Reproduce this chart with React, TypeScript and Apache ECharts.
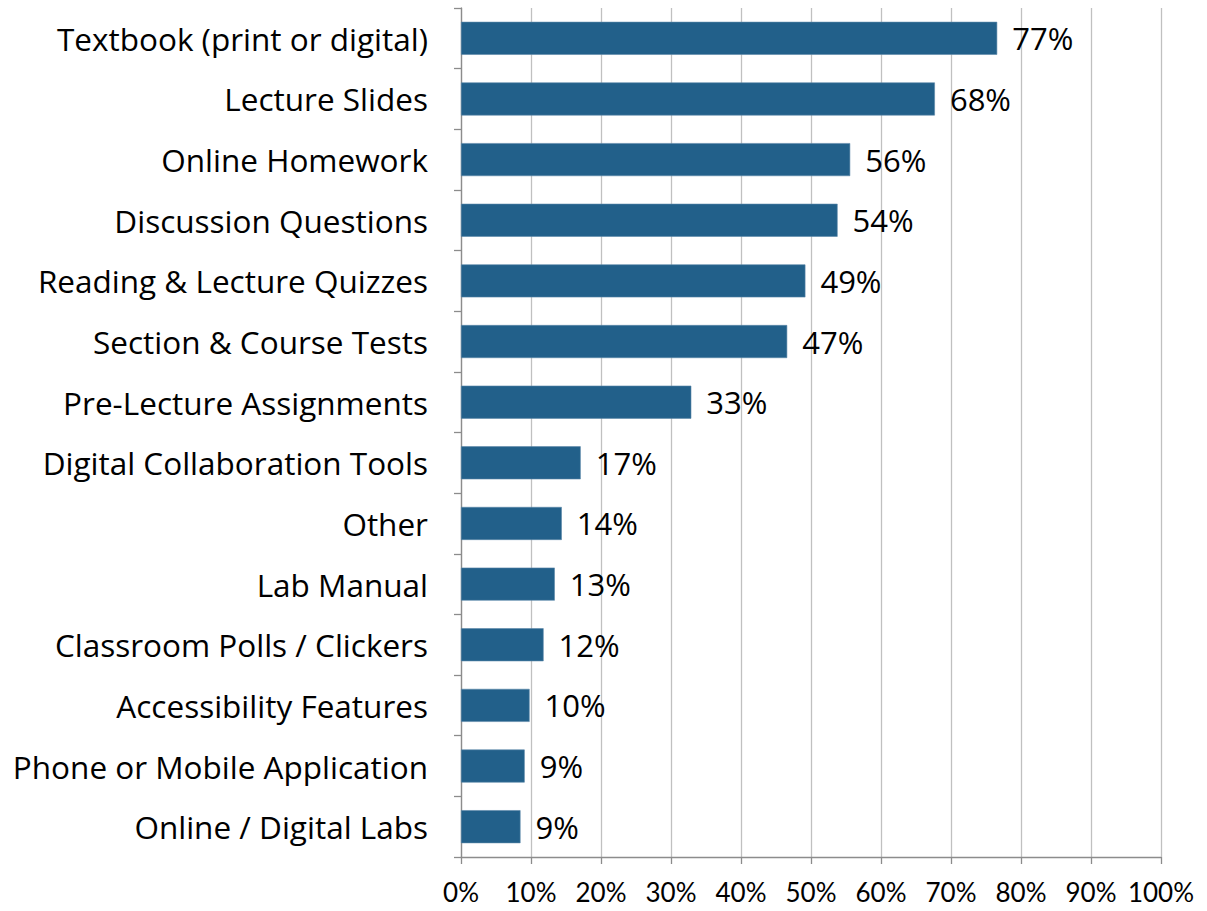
import React, { useEffect, useRef } from "react";
import * as echarts from "echarts";

const categories = [
  "Textbook (print or digital)",
  "Lecture Slides",
  "Online Homework",
  "Discussion Questions",
  "Reading & Lecture Quizzes",
  "Section & Course Tests",
  "Pre-Lecture Assignments",
  "Digital Collaboration Tools",
  "Other",
  "Lab Manual",
  "Classroom Polls / Clickers",
  "Accessibility Features",
  "Phone or Mobile Application",
  "Online / Digital Labs",
];

const values = [76.6, 67.7, 55.6, 53.8, 49.2, 46.6, 32.9, 17.1, 14.4, 13.4, 11.8, 9.8, 9.1, 8.5];

const xTicks = [0, 10, 20, 30, 40, 50, 60, 70, 80, 90, 100];

const FONT = "Open Sans";

export default function App() {
  const ref = useRef<HTMLDivElement>(null);
  useEffect(() => {
    document.body.style.margin = "0";
    const chart = echarts.init(ref.current!, null, { renderer: "svg" });
    chart.setOption({
      animation: false,
      backgroundColor: "#ffffff",
      grid: { left: 461, right: 46, top: 8, bottom: 54, containLabel: false },
      xAxis: {
        type: "value",
        min: xTicks[0],
        max: xTicks[xTicks.length - 1],
        interval: 10,
        axisLine: { show: true, lineStyle: { color: "#8c8c8c", width: 1.3 } },
        axisTick: { show: true, length: 7, lineStyle: { color: "#8c8c8c", width: 1.3 } },
        splitLine: { show: true, lineStyle: { color: "#c0c0c0", width: 1.3 } },
        axisLabel: {
          formatter: "{value}%",
          fontFamily: "Lato",
          fontSize: 26,
          color: "#000",
          margin: 22,
        },
      },
      yAxis: {
        type: "category",
        inverse: true,
        data: categories,
        axisLine: { show: true, lineStyle: { color: "#8c8c8c", width: 1.3 } },
        axisTick: { show: true, length: 7, alignWithLabel: false, lineStyle: { color: "#8c8c8c", width: 1.3 } },
        splitLine: { show: false },
        axisLabel: {
          fontFamily: FONT,
          fontSize: 31.5,
          color: "#000",
          margin: 33,
        },
      },
      series: [
        {
          type: "bar",
          data: values,
          barWidth: 33,
          itemStyle: { color: "#22608A", borderColor: "#5b87a8", borderWidth: 0.6 },
          label: {
            show: true,
            position: "right",
            distance: 15,
            formatter: (p: any) => Math.round(p.value) + "%",
            fontFamily: FONT,
            fontSize: 31,
            color: "#000",
          },
        },
      ],
    });
    return () => chart.dispose();
  }, []);
  return <div ref={ref} style={{ width: 1207, height: 911 }} />;
}
